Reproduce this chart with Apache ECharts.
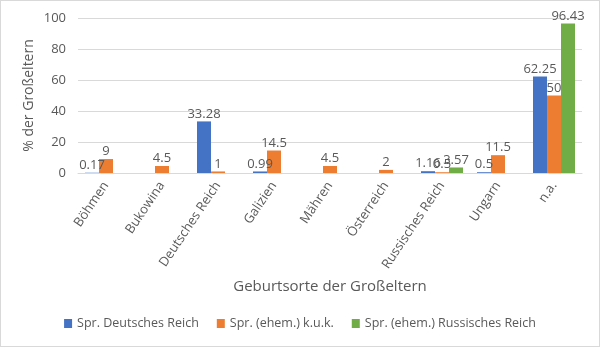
<!DOCTYPE html>
<html><head><meta charset="utf-8">
<script src="https://cdn.jsdelivr.net/npm/echarts@6/dist/echarts.min.js"></script>
<style>html,body{margin:0;padding:0;background:#fff}#c{width:600px;height:347px;box-sizing:border-box;border:1px solid #d9d9d9}</style>
</head><body><div id="c"></div>
<script>
const categories = ['Böhmen','Bukowina','Deutsches Reich','Galizien','Mähren','Österreich','Russisches Reich','Ungarn','n.a.'];
const seriesNames = ['Spr. Deutsches Reich','Spr. (ehem.) k.u.k.','Spr. (ehem.) Russisches Reich'];
const deutsches = [0.17, null, 33.28, 0.99, null, null, 1.16, 0.5, 62.25];
const kuk = [9, 4.5, 1, 14.5, 4.5, 2, 0.5, 11.5, 50];
const russisches = [null, null, null, null, null, null, 3.57, null, 96.43];
const yTicks = {min: 0, max: 100, interval: 20};
const colors = ['#4472C4','#ED7D31','#70AD47'];
const font = 'Open Sans';
const txt = '#595959';
const chart = echarts.init(document.getElementById('c'));
const mk = (name, data, i) => ({
  name, type: 'bar', data, barGap: '0%', barCategoryGap: '25%',
  itemStyle: {color: colors[i]},
  label: {show: true, position: 'top', distance: 1, color: txt, fontFamily: font, fontSize: 13}
});
chart.setOption({
  animation: false,
  grid: {left: 77, right: 17, top: 17, bottom: 173},
  legend: {
    data: seriesNames, top: 311, left: 'center', itemWidth: 8, itemHeight: 9, itemGap: 18,
    icon: 'rect', textStyle: {color: txt, fontFamily: font, fontSize: 12.5}
  },
  xAxis: {
    type: 'category', data: categories,
    name: 'Geburtsorte der Großeltern', nameLocation: 'middle', nameGap: 106, nameMoveOverlap: false,
    nameTextStyle: {color: txt, fontFamily: font, fontSize: 15, verticalAlign: 'top'},
    axisLine: {lineStyle: {color: '#d9d9d9'}}, axisTick: {show: false},
    axisLabel: {rotate: 56, color: txt, fontFamily: font, fontSize: 13, margin: 10, interval: 0}
  },
  yAxis: {
    type: 'value', min: yTicks.min, max: yTicks.max, interval: yTicks.interval,
    name: '% der Großeltern', nameLocation: 'middle', nameGap: 42, nameRotate: 90, nameMoveOverlap: false,
    nameTextStyle: {color: txt, fontFamily: font, fontSize: 14},
    axisLine: {show: false}, axisTick: {show: false},
    axisLabel: {color: txt, fontFamily: font, fontSize: 13, margin: 12},
    splitLine: {lineStyle: {color: '#d9d9d9'}}
  },
  series: [mk(seriesNames[0], deutsches, 0), mk(seriesNames[1], kuk, 1), mk(seriesNames[2], russisches, 2)]
});
</script></body></html>
